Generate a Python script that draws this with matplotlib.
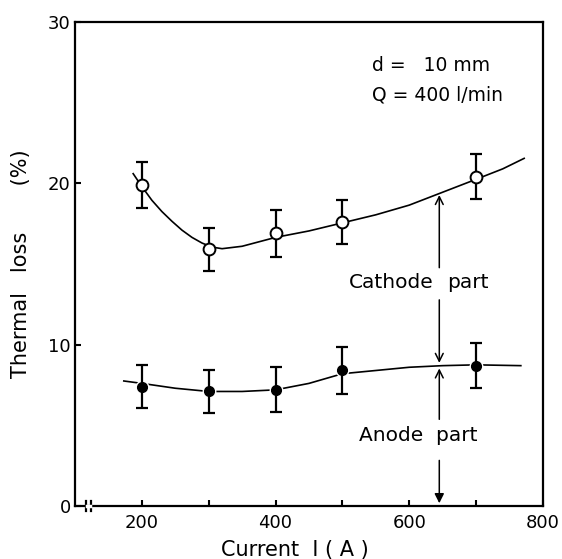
import numpy as np
import matplotlib.pyplot as plt
from matplotlib.lines import Line2D

# measured points
current = [200, 300, 400, 500, 700]
cathode = [19.9, 15.9, 16.9, 17.6, 20.4]
cathode_err = [1.4, 1.35, 1.45, 1.35, 1.4]
anode = [7.4, 7.1, 7.2, 8.4, 8.7]
anode_err = [1.35, 1.35, 1.4, 1.45, 1.4]

# hand-drawn fit curves
cath_curve_x = [187, 200, 215, 230, 245, 260, 275, 290, 305, 320, 350, 400, 450, 500,
                550, 600, 650, 700, 740, 772]
cath_curve_y = [20.6, 19.8, 18.95, 18.25, 17.65, 17.1, 16.65, 16.3, 16.05, 15.95, 16.1,
                16.65, 17.05, 17.55, 18.05, 18.65, 19.45, 20.25, 20.9, 21.55]
anod_curve_x = [173, 200, 250, 300, 350, 400, 450, 500, 550, 600, 650, 700, 767]
anod_curve_y = [7.75, 7.6, 7.3, 7.1, 7.1, 7.2, 7.6, 8.2, 8.4, 8.6, 8.7, 8.75, 8.7]

x_arrow = 645

fig = plt.figure(figsize=(5.62, 5.59), dpi=100)
ax = fig.add_axes([0.1335, 0.0948, 0.8325, 0.8658])

ax.plot(cath_curve_x, cath_curve_y, color='black', lw=1.2, zorder=1)
ax.plot(anod_curve_x, anod_curve_y, color='black', lw=1.2, zorder=1)

ax.errorbar(current, cathode, yerr=cathode_err, fmt='none', ecolor='black',
            elinewidth=1.6, capsize=4.5, capthick=1.6, zorder=2)
ax.plot(current, cathode, 'o', ms=8.5, mfc='white', mec='black', mew=1.4, zorder=3)

ax.plot(current, anode, 'o', ms=8.5, mfc='black', mec='white', mew=1.5, zorder=2)
ax.errorbar(current, anode, yerr=anode_err, fmt='none', ecolor='black',
            elinewidth=1.6, capsize=4.5, capthick=1.6, zorder=3)
ax.plot(current, anode, 'o', ms=7, mfc='black', mec='black', zorder=4)

# arrows marking cathode / anode parts
ap = dict(arrowstyle='->', color='black', lw=1.1, mutation_scale=14)
ax.annotate('', xy=(x_arrow, 19.45), xytext=(x_arrow, 14.6), arrowprops=ap)
ax.annotate('', xy=(x_arrow, 8.7), xytext=(x_arrow, 12.95), arrowprops=ap)
ax.annotate('', xy=(x_arrow, 8.7), xytext=(x_arrow, 5.2), arrowprops=ap)
ax.annotate('', xy=(x_arrow, 0), xytext=(x_arrow, 3.0),
            arrowprops=dict(arrowstyle='-|>', color='black', lw=1.1, mutation_scale=14))

ax.text(637, 13.85, 'Cathode', fontsize=14.5, ha='right', va='center')
ax.text(657, 13.85, 'part', fontsize=14.5, ha='left', va='center')
ax.text(613, 4.4, 'Anode  part', fontsize=14.5, ha='center', va='center')
ax.text(545, 27.3, 'd =   10 mm', fontsize=13.5, ha='left', va='center')
ax.text(545, 25.5, 'Q = 400 l/min', fontsize=13.5, ha='left', va='center')

ax.set_xlim(100, 800)
ax.set_ylim(0, 30)
ax.set_xticks([200, 400, 600, 800])
ax.set_xticks([300, 500, 700], minor=True)
ax.set_yticks([0, 10, 20, 30])
ax.tick_params(which='both', direction='in', length=4, width=1.5, labelsize=13)
ax.tick_params(axis='x', pad=6)
ax.tick_params(axis='y', pad=3)
for s in ax.spines.values():
    s.set_linewidth(1.6)

# axis break near the origin
for xb in [116, 124]:
    ax.add_line(Line2D([xb, xb], [-0.3, 0.3], color='black', lw=1.6, clip_on=False, zorder=5))
ax.add_line(Line2D([117.5, 122.5], [0, 0], color='white', lw=2.5, clip_on=False, zorder=5))

ax.set_ylabel('Thermal   loss       (%)', fontsize=15, labelpad=12)
fig.text(295 / 562, 1 - 550 / 559, 'Current  I ( A )', fontsize=15, ha='center', va='center')

fig.savefig('out.png', dpi=100)
